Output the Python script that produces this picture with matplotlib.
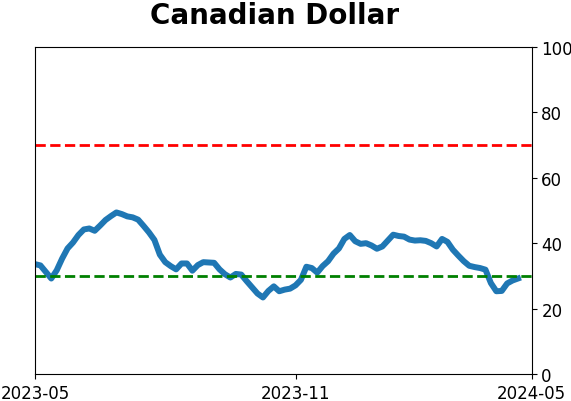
import numpy as np
import pandas as pd
import matplotlib
matplotlib.use("Agg")
import matplotlib.pyplot as plt
import matplotlib.dates as mdates

# series sampled every 4 days from 2023-05-01
values = [33.6, 33.2, 31.2, 29.2, 31.7, 35.3, 38.4, 40.2, 42.5, 44.2,
          44.5, 43.8, 45.4, 47.1, 48.3, 49.4, 48.9, 48.2, 47.9, 47.2,
          45.3, 43.3, 41.0, 36.5, 34.2, 33.0, 32.0, 33.8, 33.8, 31.6,
          33.3, 34.2, 34.1, 34.0, 32.0, 30.5, 29.5, 30.6, 30.4, 28.4,
          26.5, 24.6, 23.4, 25.4, 26.8, 25.3, 25.8, 26.1, 27.1, 28.8,
          32.8, 32.4, 31.0, 33.0, 34.5, 36.8, 38.4, 41.3, 42.5, 40.6,
          39.8, 40.0, 39.3, 38.3, 39.0, 40.8, 42.6, 42.2, 42.0, 41.1,
          40.8, 40.9, 40.7, 40.0, 39.0, 41.3, 40.4, 38.0, 36.2, 34.5,
          33.1, 32.7, 32.4, 31.9, 27.8, 25.3, 25.4, 27.7, 28.6, 29.2]
dates = pd.date_range("2023-05-01", periods=len(values), freq="4D")

upper = 70
lower = 30
tick_dates = pd.to_datetime(["2023-05-01", "2023-11-09", "2024-05-01"])

fig = plt.figure(figsize=(5.71, 4.02), dpi=100)
ax = fig.add_axes([0.0613, 0.0672, 0.8697, 0.8134])

ax.plot(dates, values, color="#1f77b4", linewidth=4.3)
ax.axhline(upper, color="red", linestyle="--", linewidth=2)
ax.axhline(lower, color="green", linestyle="--", linewidth=2)

ax.set_xlim(pd.Timestamp("2023-05-01"), pd.Timestamp("2024-05-01"))
ax.set_ylim(0, 100)
ax.set_xticks(tick_dates)
ax.xaxis.set_major_formatter(mdates.DateFormatter("%Y-%m"))
ax.yaxis.tick_right()
ax.tick_params(labelsize=12)

fig.suptitle("Canadian Dollar", fontsize=20, fontweight="bold", x=0.48, y=0.995)

fig.savefig("out.png", dpi=100)
